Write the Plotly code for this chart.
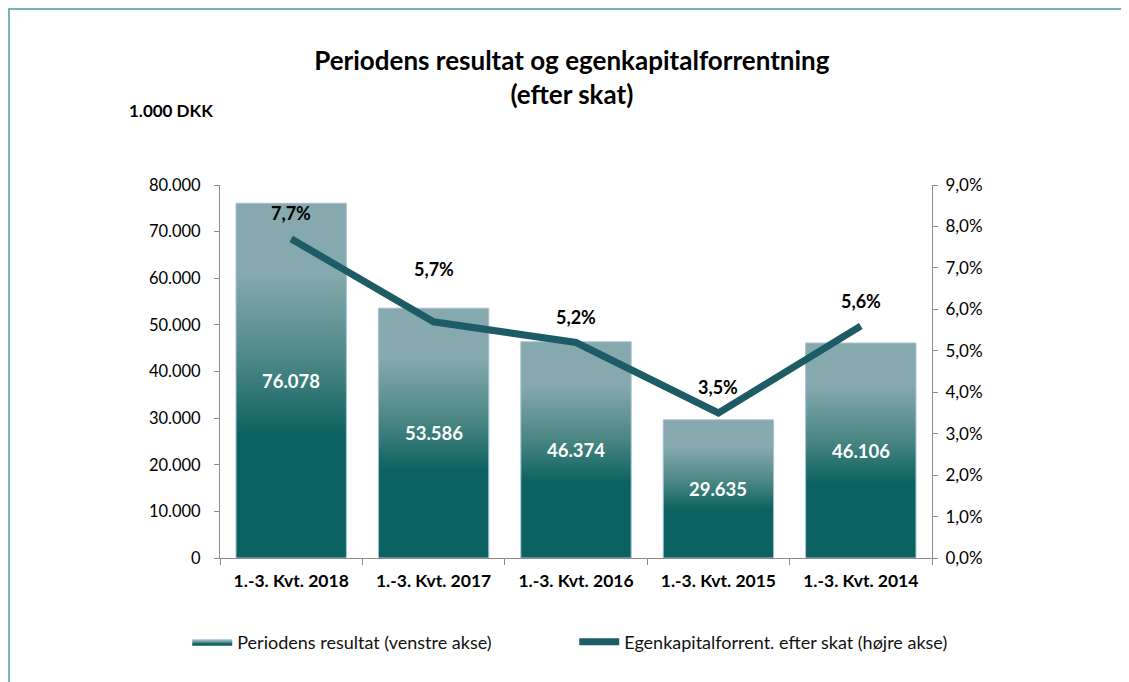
import plotly.graph_objects as go

categories = ["1.-3. Kvt. 2018", "1.-3. Kvt. 2017", "1.-3. Kvt. 2016", "1.-3. Kvt. 2015", "1.-3. Kvt. 2014"]
resultat = [76078, 53586, 46374, 29635, 46106]
egenkap_pct = [7.7, 5.7, 5.2, 3.5, 5.6]
left_ticks = [0, 10000, 20000, 30000, 40000, 50000, 60000, 70000, 80000]
left_ticktext = ["0", "10.000", "20.000", "30.000", "40.000", "50.000", "60.000", "70.000", "80.000"]
right_ticks = [0, 1, 2, 3, 4, 5, 6, 7, 8, 9]
right_ticktext = ["0,0%", "1,0%", "2,0%", "3,0%", "4,0%", "5,0%", "6,0%", "7,0%", "8,0%", "9,0%"]

FONT = "Lato"
DARK = "#0c6260"
LIGHT = "#86a9ad"
LINE = "#1d5b66"
BAR_W = 0.775
PCT_LABEL_SHIFT = [26, 53, 25, 26, 25]  # pixel offset of the % labels above the line

# figure geometry (figure is offset 8px by the page body margin)
W, H = 1121, 674
L, R, T, B = 212, 924, 177, 550
PW, PH = R - L, B - T

def px_x(p):
    return (p - L) / PW

def px_y(p):
    return (B - p) / PH

def fmt_thousands(v):
    return f"{v:,}".replace(",", ".")

def fmt_pct(v):
    return f"{v:.1f}%".replace(".", ",")

fig = go.Figure()

for i, v in enumerate(resultat):
    x0, x1 = i - BAR_W / 2, i + BAR_W / 2
    fig.add_trace(go.Scatter(
        x=[x0, x1, x1, x0, x0], y=[0, 0, v, v, 0],
        mode="lines", fill="toself",
        line=dict(color="#a9c0dc", width=1),
        fillgradient=dict(type="vertical", start=0, stop=v,
                          colorscale=[[0, DARK], [0.35, DARK], [0.55, "#4a8684"],
                                      [0.8, LIGHT], [1, LIGHT]]),
        name="Periodens resultat (venstre akse)",
        legendgroup="bars", showlegend=(i == 0),
        hoverinfo="skip",
    ))

fig.add_trace(go.Scatter(
    x=list(range(len(categories))), y=egenkap_pct, yaxis="y2",
    mode="lines", line=dict(color=LINE, width=7),
    name="Egenkapitalforrent. efter skat (højre akse)",
))

annotations = []
for i, v in enumerate(resultat):
    annotations.append(dict(x=i, y=v / 2, xref="x", yref="y", text=f"<b>{fmt_thousands(v)}</b>",
                            showarrow=False, font=dict(family=FONT, size=18.5, color="white")))
for i, p in enumerate(egenkap_pct):
    annotations.append(dict(x=i, y=p, xref="x", yref="y2", text=f"<b>{fmt_pct(p)}</b>",
                            showarrow=False, yshift=PCT_LABEL_SHIFT[i],
                            font=dict(family=FONT, size=18, color="black")))
annotations.append(dict(x=px_x(162.5), y=px_y(102), xref="paper", yref="paper", text="<b>1.000 DKK</b>",
                        xanchor="center", yanchor="middle",
                        showarrow=False, font=dict(family=FONT, size=17, color="black")))

axis_col = "#8c8c8c"
fig.update_layout(
    width=W, height=H,
    margin=dict(l=L, r=W - R, t=T, b=H - B),
    paper_bgcolor="white", plot_bgcolor="white",
    font=dict(family=FONT, size=16, color="#222"),
    title=dict(text="<b>Periodens resultat og egenkapitalforrentning<br>(efter skat)</b>",
               x=0.503, xanchor="center", y=0.908, yanchor="top",
               font=dict(family=FONT, size=26, color="black")),
    xaxis=dict(range=[-0.5, 4.5], tickvals=list(range(len(categories))),
               ticktext=[f"<b>{c}</b>" for c in categories], ticks="", showgrid=False,
               zeroline=False, showline=True, linecolor=axis_col, linewidth=1,
               ticklabelstandoff=7,
               tickfont=dict(family=FONT, size=17.5, color="black"),
               minor=dict(tickvals=[-0.5, 0.5, 1.5, 2.5, 3.5, 4.5], ticks="outside",
                          ticklen=6, tickcolor=axis_col, showgrid=False)),
    yaxis=dict(range=[0, 80000], tickvals=left_ticks, ticktext=left_ticktext, showgrid=False,
               zeroline=False, showline=True, linecolor=axis_col, ticks="outside",
               ticklen=5, tickcolor=axis_col, ticklabelstandoff=10,
               tickfont=dict(family=FONT, size=16.5, color="black")),
    yaxis2=dict(range=[0, 9], tickvals=right_ticks, ticktext=right_ticktext, overlaying="y",
                side="right", showgrid=False, zeroline=False, showline=True, linecolor=axis_col,
                ticks="outside", ticklen=5, tickcolor=axis_col, ticklabelstandoff=4,
                tickfont=dict(family=FONT, size=17, color="black")),
    legend=dict(orientation="h", x=-0.046, y=-0.176, xanchor="left", yanchor="top",
                font=dict(family=FONT, size=18, color="#111"), itemwidth=40,
                traceorder="normal", entrywidth=332),
    annotations=annotations,
    shapes=[dict(type="rect", xref="paper", yref="paper",
                 x0=px_x(1), x1=px_x(1115), y0=px_y(H + 20), y1=px_y(1),
                 line=dict(color="#4f9a98", width=1.5), fillcolor="rgba(0,0,0,0)", layer="below")],
)

fig.write_html("out.html")
